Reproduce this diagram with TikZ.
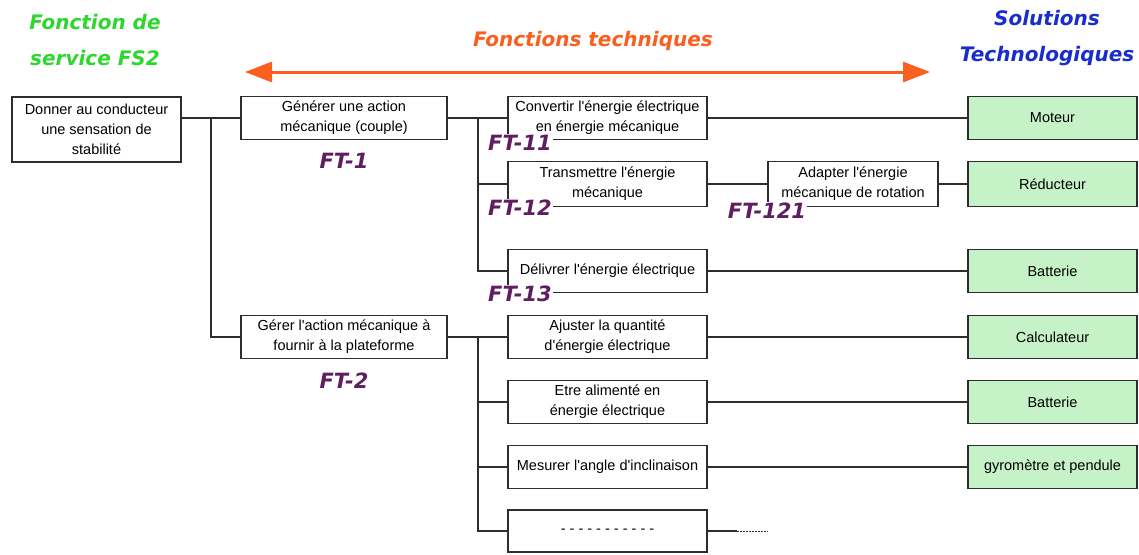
\documentclass[tikz,border=0pt]{standalone}
\usepackage{fontspec}
\setmainfont{Liberation Sans}[Ligatures=TeXOff]
\newfontfamily\titrefont{DejaVu Sans}
\usepackage{xcolor}
\usetikzlibrary{arrows.meta, positioning, calc}

\definecolor{vertfs}{RGB}{45,215,45}
\definecolor{orangeft}{RGB}{250,95,30}
\definecolor{bleust}{RGB}{25,45,205}
\definecolor{violetft}{RGB}{95,30,95}
\definecolor{vertst}{RGB}{198,242,200}
\definecolor{trait}{RGB}{45,45,45}

\begin{document}
\begin{tikzpicture}[x=1pt, y=-1pt, >={Triangle[length=27pt, width=20pt]},
    boite/.style={draw=trait, line width=1.5pt, fill=white, align=center, inner sep=3pt,
      font=\fontsize{14.5}{20}\selectfont, minimum height=43pt},
    solution/.style={boite, fill=vertst, minimum width=169pt},
    titre/.style={align=center, font=\titrefont\fontsize{20}{36}\selectfont\bfseries\itshape},
    ftnum/.style={fill=white, inner sep=1pt, text=violetft,
      font=\titrefont\fontsize{21}{21}\selectfont\bfseries\itshape},
    lien/.style={draw=trait, line width=1.5pt}]

      \useasboundingbox (0,0) rectangle (1139,554);

      \node[titre, text=vertfs] (fs2) at (95,40) {Fonction de\\service FS2};
      \node[titre, text=orangeft] (ftech) at (593,41) {Fonctions techniques};
      \node[titre, text=bleust] (stech) at (1047,38) {Solutions\\Technologiques};

      \coordinate (ftg) at (245,72);
      \coordinate (ftd) at (930,72);
      \draw[<->, orangeft, line width=3pt] (ftg) -- (ftd);

      \node[boite, minimum width=169pt, minimum height=65pt] (fs) at (96.5,129.5) {Donner au conducteur\\une sensation de\\stabilité};
      \node[boite, minimum width=206pt] (ft1) at (344,118) {Générer une action\\mécanique (couple)};
      \node[boite, minimum width=206pt] (ft2) at (344,337) {Gérer l'action mécanique à\\fournir à la plateforme};

      \node[boite, minimum width=199pt] (ft11) at (607.5,118) {Convertir l'énergie électrique\\en énergie mécanique};
      \node[boite, minimum width=199pt, minimum height=45pt] (ft12) at (607.5,184) {Transmettre l'énergie\\mécanique};
      \node[boite, minimum width=170pt, minimum height=45pt] (ft121) at (853,184) {Adapter l'énergie\\mécanique de rotation};
      \node[boite, minimum width=199pt] (ft13) at (607.5,271) {Délivrer l'énergie électrique};
      \node[boite, minimum width=199pt] (ft21) at (607.5,337) {Ajuster la quantité\\d'énergie électrique};
      \node[boite, minimum width=199pt] (ft22) at (607.5,402) {Etre alimenté en\\énergie électrique};
      \node[boite, minimum width=199pt] (ft23) at (607.5,467) {Mesurer l'angle d'inclinaison};
      \node[boite, minimum width=199pt, minimum height=42pt] (ft24) at (607.5,531) {- - - - - - - - - - -};

      \node[solution] (st1) at (1052.5,118) {Moteur};
      \node[solution, minimum height=45pt] (st2) at (1052.5,184) {Réducteur};
      \node[solution] (st3) at (1052.5,271) {Batterie};
      \node[solution] (st4) at (1052.5,337) {Calculateur};
      \node[solution] (st5) at (1052.5,402) {Batterie};
      \node[solution] (st6) at (1052.5,467) {gyromètre et pendule};

      \draw[lien] (fs.east |- ft1.west) -- (ft1.west);
      \coordinate (j1) at (211,118);
      \draw[lien] (j1) |- (ft2.west);

      \draw[lien] (ft1) -- (ft11);
      \coordinate (j2) at (478,118);
      \draw[lien] (j2) |- (ft12.west);
      \draw[lien] (j2) |- (ft13.west);
      \draw[lien] (ft11) -- (st1);
      \draw[lien] (ft12) -- (ft121);
      \draw[lien] (ft121) -- (st2);
      \draw[lien] (ft13) -- (st3);

      \draw[lien] (ft2) -- (ft21);
      \coordinate (j3) at (478,337);
      \draw[lien] (j3) |- (ft22.west);
      \draw[lien] (j3) |- (ft23.west);
      \draw[lien] (j3) |- (ft24.west);
      \draw[lien] (ft21) -- (st4);
      \draw[lien] (ft22) -- (st5);
      \draw[lien] (ft23) -- (st6);
      \coordinate (v1) at (737,531);
      \coordinate (v2) at (768,531);
      \draw[lien] (ft24) -- (v1);
      \draw[lien, line width=1pt, dash pattern=on 2pt off 1pt] (v1) -- (v2);

      \node[ftnum, below=12pt of ft1] (l1) {FT-1};
      \node[ftnum, below=12pt of ft2] (l2) {FT-2};
      \node[ftnum] (l11) at (520,143) {FT-11};
      \node[ftnum] (l12) at (520,208) {FT-12};
      \node[ftnum] (l121) at (767,211) {FT-121};
      \node[ftnum] (l13) at (520,294) {FT-13};

    \end{tikzpicture}
\end{document}
